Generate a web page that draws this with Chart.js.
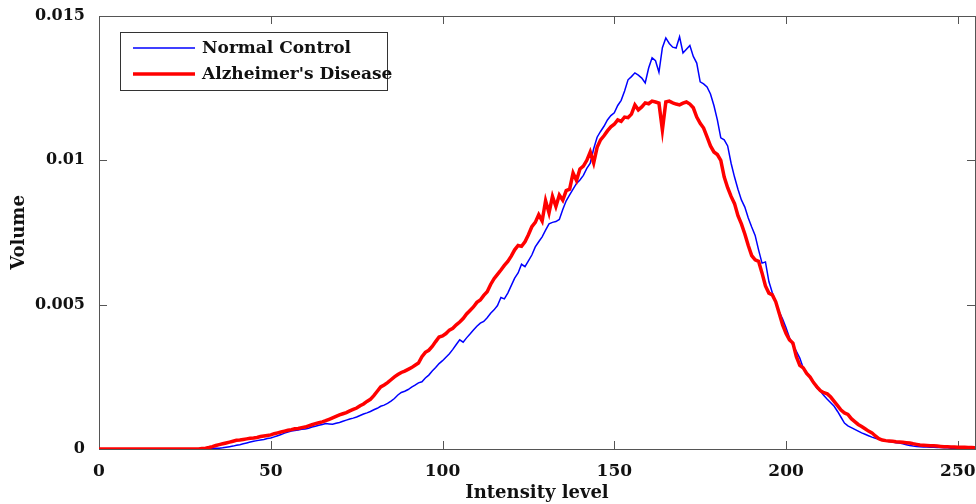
<!DOCTYPE html>
<html>
<head>
<meta charset="utf-8">
<script src="https://cdn.jsdelivr.net/npm/chart.js@4/dist/chart.umd.min.js"></script>
<style>
  html, body { margin: 0; padding: 0; background: #fff; }
</style>
</head>
<body>
<canvas id="histChart" width="976" height="504"></canvas>
<script>
// intensity levels 0..255
const intensity = Array.from({ length: 256 }, (_, i) => i);

const normalControl = [
  0,0,0,0,0,0,0,0,0,0,0,0,0,0,0,0,
  0,0,0,0,0,0,0,0,0,0,0,0,0,0,0.00001,0.00001,
  0.00002,0.00002,0.00003,0.00003,0.00004,0.00006,0.00008,0.0001,0.00013,0.00015,0.00018,0.00021,0.00024,0.00027,0.00029,0.00031,
  0.00033,0.00036,0.00038,0.00042,0.00046,0.0005,0.00055,0.00059,0.00062,0.00064,0.00066,0.00068,0.00069,0.00072,0.00076,0.00079,
  0.00082,0.00085,0.00088,0.00087,0.00086,0.00089,0.00092,0.00096,0.001,0.00104,0.00107,0.00111,0.00116,0.00121,0.00125,0.0013,
  0.00136,0.00141,0.00148,0.00152,0.00158,0.00166,0.00175,0.00187,0.00196,0.002,0.00206,0.00214,0.00221,0.00229,0.00233,0.00246,
  0.00256,0.0027,0.00282,0.00296,0.00306,0.00318,0.0033,0.00345,0.00362,0.00378,0.0037,0.00385,0.00398,0.00412,0.00425,0.00436,
  0.00442,0.00455,0.0047,0.00482,0.00497,0.00525,0.0052,0.0054,0.00566,0.00592,0.0061,0.0064,0.00632,0.00652,0.00672,0.007,
  0.00718,0.00735,0.00758,0.0078,0.00785,0.00788,0.00795,0.0083,0.0086,0.0088,0.009,0.0092,0.00932,0.00948,0.00972,0.0099,
  0.0104,0.0108,0.011,0.01118,0.0114,0.01155,0.01165,0.0119,0.01208,0.0124,0.01279,0.0129,0.01303,0.01295,0.01285,0.01268,
  0.0132,0.01355,0.01345,0.01305,0.0139,0.01424,0.01405,0.01392,0.01389,0.01428,0.01372,0.01385,0.01398,0.0136,0.01337,0.01272,
  0.01265,0.01254,0.0123,0.0119,0.0114,0.01078,0.01071,0.0105,0.0099,0.00942,0.009,0.00863,0.00838,0.008,0.00769,0.0074,
  0.0069,0.00644,0.00648,0.0058,0.00541,0.0051,0.00475,0.0045,0.0042,0.00385,0.0036,0.00338,0.00315,0.00281,0.00265,0.0025,
  0.0023,0.0021,0.002,0.00185,0.00172,0.0016,0.00148,0.0013,0.0011,0.0009,0.0008,0.00074,0.00068,0.00062,0.00056,0.00051,
  0.00046,0.00041,0.00037,0.00034,0.00031,0.00028,0.00026,0.00024,0.00022,0.00021,0.00018,0.00015,0.00012,0.0001,0.00009,0.00008,
  0.00007,0.00007,0.00006,0.00006,0.00005,0.00005,0.00004,0.00004,0.00003,0.00003,0.00003,0.00002,0.00002,0.00002,0.00001,0.00001
];

const alzheimers = [
  0,0,0,0,0,0,0,0,0,0,0,0,0,0,0,0,
  0,0,0,0,0,0,0,0,0,0,0,0,0,0,0.00002,0.00003,
  0.00005,0.00008,0.00012,0.00015,0.00018,0.00021,0.00024,0.00027,0.0003,0.00031,0.00033,0.00035,0.00037,0.00038,0.0004,0.00043,
  0.00045,0.00047,0.00049,0.00053,0.00056,0.00059,0.00062,0.00065,0.00067,0.0007,0.00071,0.00074,0.00076,0.0008,0.00084,0.00088,
  0.00091,0.00094,0.00098,0.00103,0.00108,0.00113,0.00118,0.00122,0.00126,0.00132,0.00137,0.00142,0.0015,0.00156,0.00165,0.00172,
  0.00185,0.002,0.00215,0.00222,0.0023,0.0024,0.0025,0.00258,0.00265,0.0027,0.00276,0.00282,0.0029,0.00298,0.0032,0.00335,
  0.00342,0.00355,0.00372,0.00388,0.00392,0.004,0.00412,0.00418,0.0043,0.0044,0.00452,0.00468,0.0048,0.00492,0.00508,0.00516,
  0.00532,0.00545,0.0057,0.0059,0.00605,0.0062,0.00636,0.0065,0.00668,0.0069,0.00705,0.00702,0.00718,0.00742,0.0077,0.00785,
  0.00812,0.0079,0.0086,0.00818,0.00875,0.0084,0.0088,0.00862,0.00895,0.009,0.00956,0.0093,0.0097,0.0098,0.01,0.01029,
  0.00991,0.01045,0.01071,0.01085,0.01102,0.01116,0.01125,0.0114,0.01135,0.0115,0.01148,0.0116,0.01192,0.01175,0.01185,0.01199,
  0.01196,0.01205,0.01202,0.01198,0.01105,0.01202,0.01205,0.01199,0.01195,0.01192,0.01198,0.01202,0.01195,0.01182,0.0115,0.01128,
  0.01112,0.01081,0.0105,0.01029,0.0102,0.01,0.00942,0.00905,0.00875,0.0085,0.00808,0.0078,0.00745,0.00705,0.0067,0.00655,
  0.0065,0.0061,0.00565,0.0054,0.00534,0.0051,0.0047,0.0043,0.004,0.00378,0.00367,0.0032,0.0029,0.00281,0.00262,0.00249,
  0.0023,0.00215,0.00202,0.00195,0.00191,0.0018,0.00165,0.0015,0.00135,0.00125,0.0012,0.00105,0.00095,0.00085,0.00078,0.0007,
  0.00062,0.00056,0.00045,0.00036,0.00031,0.00029,0.00028,0.00027,0.00025,0.00024,0.00023,0.00022,0.00021,0.00018,0.00016,0.00014,
  0.00013,0.00012,0.00011,0.00011,0.0001,0.00009,0.00008,0.00008,0.00007,0.00007,0.00006,0.00006,0.00006,0.00005,0.00005,0.00004
];

const xTicks = [0, 50, 100, 150, 200, 250];
const yTicks = [0, 0.005, 0.01, 0.015];

const FONT = '"DejaVu Serif", serif';
const AXIS_COLOR = '#555';

// box + inward ticks, matlab style
const frameTicks = {
  id: 'frameTicks',
  beforeDatasetsDraw(chart) {
    const { ctx, chartArea: a, scales: { x, y } } = chart;
    ctx.save();
    ctx.strokeStyle = AXIS_COLOR;
    ctx.lineWidth = 1;
    ctx.strokeRect(a.left + 0.5, a.top + 0.5, a.right - a.left, a.bottom - a.top);
    ctx.beginPath();
    xTicks.forEach(v => {
      const px = Math.round(x.getPixelForValue(v)) + 0.5;
      ctx.moveTo(px, a.bottom); ctx.lineTo(px, a.bottom - 8);
      ctx.moveTo(px, a.top); ctx.lineTo(px, a.top + 8);
    });
    yTicks.forEach(v => {
      const py = Math.round(y.getPixelForValue(v)) + 0.5;
      ctx.moveTo(a.left, py); ctx.lineTo(a.left + 8, py);
      ctx.moveTo(a.right, py); ctx.lineTo(a.right - 8, py);
    });
    ctx.stroke();
    ctx.restore();
  },
  afterDraw(chart) {
    const { ctx } = chart;
    ctx.save();
    ctx.fillStyle = '#fff';
    ctx.fillRect(120, 32, 267, 58);
    ctx.strokeStyle = '#333';
    ctx.lineWidth = 1;
    ctx.strokeRect(120.5, 32.5, 267, 58);
    const items = [
      { label: 'Normal Control', color: '#0000ff', width: 1.5, y: 48 },
      { label: "Alzheimer's Disease", color: '#ff0000', width: 3.5, y: 74 }
    ];
    ctx.font = 'bold 17px ' + FONT;
    ctx.textBaseline = 'middle';
    items.forEach(it => {
      ctx.strokeStyle = it.color;
      ctx.lineWidth = it.width;
      ctx.beginPath();
      ctx.moveTo(133, it.y); ctx.lineTo(195, it.y);
      ctx.stroke();
      ctx.fillStyle = '#111';
      ctx.fillText(it.label, 202, it.y + 1);
    });
    ctx.restore();
  }
};

new Chart(document.getElementById('histChart'), {
  type: 'line',
  data: {
    labels: intensity,
    datasets: [
      {
        label: "Alzheimer's Disease",
        data: alzheimers,
        borderColor: '#ff0000',
        borderWidth: 3.5,
        pointRadius: 0,
        tension: 0,
        fill: false
      },
      {
        label: 'Normal Control',
        data: normalControl,
        borderColor: '#0000ff',
        borderWidth: 1.5,
        pointRadius: 0,
        tension: 0,
        fill: false
      }
    ]
  },
  options: {
    responsive: false,
    animation: false,
    layout: { padding: { top: 16, right: 1, left: 0, bottom: 0 } },
    plugins: {
      legend: { display: false },
      tooltip: { enabled: false }
    },
    scales: {
      x: {
        type: 'linear',
        min: 0,
        max: 255,
        grid: { display: false },
        border: { display: false },
        afterFit(scale) {
          scale.height = 55;
          scale.paddingLeft = 0;
          scale.paddingRight = 0;
        },
        afterBuildTicks(scale) { scale.ticks = xTicks.map(v => ({ value: v })); },
        ticks: {
          color: '#111',
          padding: 4,
          maxRotation: 0,
          font: { family: FONT, size: 17, weight: 'bold' }
        },
        title: {
          display: true,
          text: 'Intensity level',
          color: '#111',
          padding: { top: 0, bottom: 0 },
          font: { family: FONT, size: 18, weight: 'bold' }
        }
      },
      y: {
        min: 0,
        max: 0.015,
        grid: { display: false },
        border: { display: false },
        afterFit(scale) {
          scale.width = 99;
          scale.paddingTop = 0;
          scale.paddingBottom = 0;
        },
        afterBuildTicks(scale) { scale.ticks = yTicks.map(v => ({ value: v })); },
        ticks: {
          color: '#111',
          padding: 6,
          font: { family: FONT, size: 16, weight: 'bold' },
          callback: v => String(parseFloat(v.toFixed(3)))
        },
        title: {
          display: true,
          text: 'Volume',
          color: '#111',
          padding: { top: 9, bottom: 0 },
          font: { family: FONT, size: 18, weight: 'bold' }
        }
      }
    }
  },
  plugins: [frameTicks]
});
</script>
</body>
</html>
